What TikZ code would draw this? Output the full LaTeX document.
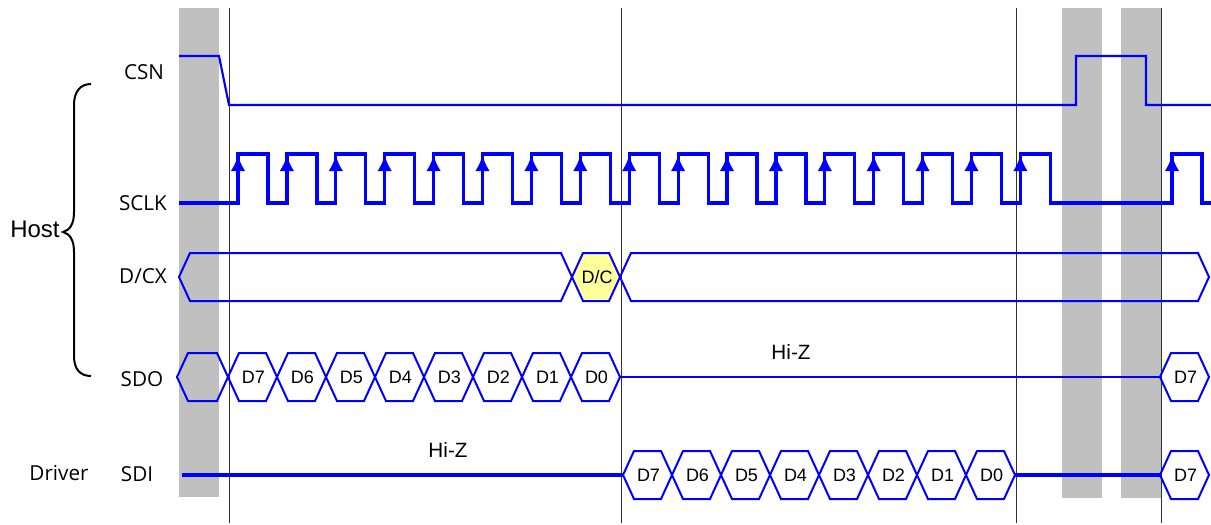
\documentclass[tikz,border=0pt]{standalone}
\usepackage{fontspec}
\setmainfont{Liberation Sans}
\newfontfamily\signame{Open Sans}
\usetikzlibrary{arrows.meta}

\definecolor{wire}{RGB}{0,0,255}
\definecolor{guard}{RGB}{192,192,192}
\definecolor{dcyellow}{RGB}{255,255,155}

% one bus cell: [options] name, left x, right x, mid y, text
\newcommand{\buscell}[6][]{%
  \draw[cell,#1] (#3,#5) -- (#3+11,#5-24) -- (#4-11,#5-24) -- (#4,#5)
    -- (#4-11,#5+24) -- (#3+11,#5+24) -- cycle;
  \node[celltext] (#2) at ({(#3+#4)/2+1},#5) {#6};
}

\begin{document}
\begin{tikzpicture}[x=0.75pt,y=-0.75pt,
    cell/.style={wire,line width=1.5pt,line join=miter},
    celltext/.style={font=\fontsize{13.5}{15}\selectfont,inner sep=0pt},
    sig/.style={font=\signame\fontsize{15.5}{18}\selectfont},
    grp/.style={font=\fontsize{18}{21}\selectfont},
    marker/.style={black!80,line width=0.7pt},
    csnline/.style={wire,line width=1.6pt},
    clkline/.style={wire,line width=2.4pt},
    hizline/.style={wire,line width=2pt},
    sdiline/.style={wire,line width=3pt}]
  \useasboundingbox (0,0) rectangle (1211,525);

  % guard times
  \fill[guard] (179,8) rectangle (219,497);
  \fill[guard] (1062,8) rectangle (1102,498);
  \fill[guard] (1121,8) rectangle (1161,498);
  \foreach \x in {229,621,1016,1161}
    \draw[marker] (\x,8) -- (\x,523);

  % CSN
  \draw[csnline] (179,56) -- (219,56) -- (229,105) -- (1076,105) -- (1076,56)
    -- (1146,56) -- (1146,105) -- (1211,105);

  % SCLK
  \draw[clkline,line join=miter] (179,203)
    foreach \k in {0,...,16} { -- ({238+48.9*\k},203) -- ++(0,-49) -- ++(30,0) -- ++(0,49) }
    -- (1172,203) -- ++(0,-49) -- ++(30,0) -- ++(0,49) -- (1211,203);
  \foreach \x in {238,286.9,...,1021,1172}
    \draw[wire,line width=2.4pt,-{Latex[length=12pt,width=11pt]}] (\x,190) -- (\x,155);

  % D/CX
  \buscell{dcA}{179}{572}{277}{}
  \buscell[fill=dcyellow]{dc}{572}{620}{277}{D/C}
  \buscell{dcB}{620}{1209}{277}{}

  % SDO
  \buscell{sdoX}{177}{228}{377}{}
  \foreach \i [count=\k from 0] in {7,...,0}
    \buscell{sdo\i}{228+49*\k}{277+49*\k}{377}{D\i}
  \draw[hizline] (620,377) -- (1160,377);
  \buscell{sdoN}{1160}{1209}{377}{D7}
  \node[font=\fontsize{15.5}{18}\selectfont] (hizo) at (791,352) {Hi-Z};

  % SDI
  \draw[sdiline] (182,475) -- (623,475);
  \foreach \i [count=\k from 0] in {7,...,0}
    \buscell{sdi\i}{623+49*\k}{672+49*\k}{475}{D\i}
  \draw[sdiline] (1015,475) -- (1160,475);
  \buscell{sdiN}{1160}{1209}{475}{D7}
  \node[font=\fontsize{15.5}{18}\selectfont] (hizi) at (448,450) {Hi-Z};

  % names
  \node[sig] (csn) at (144,72) {CSN};
  \node[sig] (sclk) at (143,203) {SCLK};
  \node[sig] (dcx) at (143,276) {D/CX};
  \node[sig] (sdo) at (142,379) {SDO};
  \node[sig] (sdi) at (137,474) {SDI};
  \node[sig] (drv) at (59,473) {Driver};
  \node[grp] (host) at (35,229) {Host};

  % brace
  \draw[black,line width=1.5pt] (91,84) .. controls (80,84) and (74,92) .. (74,105)
    -- (74,212) .. controls (74,224) and (70,230) .. (63,232)
    .. controls (70,234) and (74,240) .. (74,252)
    -- (74,356) .. controls (74,369) and (80,376) .. (91,376);
\end{tikzpicture}
\end{document}
